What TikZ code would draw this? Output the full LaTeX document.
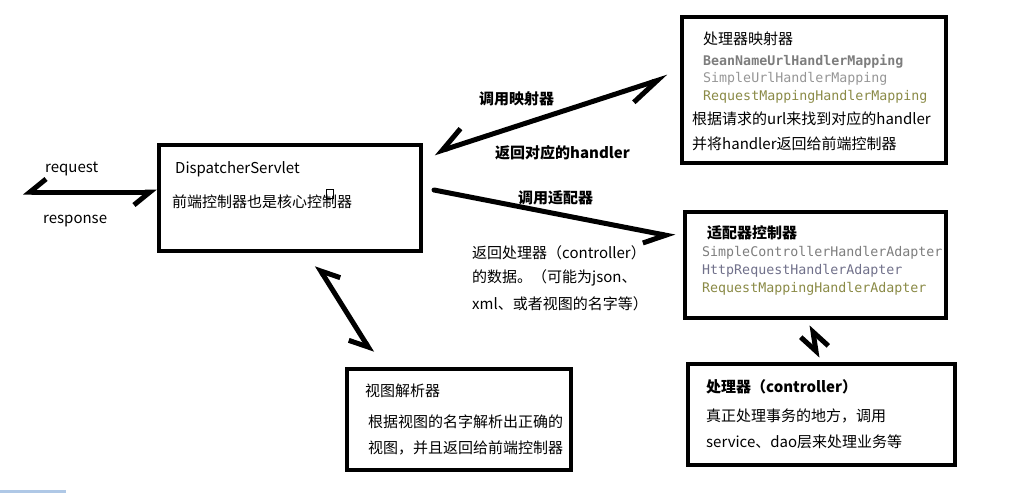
\documentclass[tikz,border=0pt]{standalone}
\usepackage{fontspec}
\setmainfont{Noto Sans CJK SC}
\setmonofont{DejaVu Sans Mono}
\usepackage{tikz}
\usetikzlibrary{arrows.meta}
\definecolor{clsgray}{RGB}{125,125,125}
\definecolor{clslight}{RGB}{150,150,150}
\definecolor{clsolive}{RGB}{138,138,70}
\definecolor{clsslate}{RGB}{112,112,138}
\definecolor{tasklight}{RGB}{175,200,230}
\tikzstyle{panel}=[draw, rectangle, line width=4pt, inner sep=0pt]
\tikzstyle{txt}=[anchor=west, inner sep=0pt, font=\fontsize{15}{18}\selectfont]
\tikzstyle{hdr}=[txt, font=\fontsize{15}{18}\selectfont\bfseries]
\tikzstyle{cls}=[anchor=west, inner sep=0pt, font=\fontsize{13.3}{16}\selectfont\ttfamily]
\tikzstyle{link}=[line width=5pt, line cap=round]
\newcommand{\panel}{\node[panel]}

\begin{document}
\begin{tikzpicture}[x=1pt,y=-1pt,>={Straight Barb[harpoon,swap,length=16pt,width=26pt]}]
	\useasboundingbox (0,0) rectangle (1022,493);
	% boxes
	\panel[minimum width=262pt,minimum height=106pt](ds) at (290,198) {};
	\panel[minimum width=264pt,minimum height=146pt](map) at (814,90) {};
	\panel[minimum width=261pt,minimum height=106pt](ada) at (815.5,265) {};
	\panel[minimum width=267pt,minimum height=101pt](ctl) at (821.5,414.5) {};
	\panel[minimum width=224pt,minimum height=101pt](view) at (459,419.5) {};
	\coordinate (client) at (23,192);
	% texts in the boxes
	\node[txt](dsName) at (175,169) {DispatcherServlet};
	\node[txt](dsNote) at (172,201.5) {前端控制器也是核心控制器};
	\node[txt](mapName) at (703,39) {处理器映射器};
	\node[cls,font=\fontsize{13.3}{16}\selectfont\ttfamily\bfseries,clsgray](mapA) at (703,61) {BeanNameUrlHandlerMapping};
	\node[cls,clslight](mapB) at (703,79) {SimpleUrlHandlerMapping};
	\node[cls,clsolive](mapC) at (703,97) {RequestMappingHandlerMapping};
	\node[txt](mapNoteA) at (692,119) {根据请求的url来找到对应的handler};
	\node[txt](mapNoteB) at (692,144) {并将handler返回给前端控制器};
	\node[hdr](adaName) at (707,232.5) {适配器控制器};
	\node[cls,clsgray](adaA) at (702,253) {SimpleControllerHandlerAdapter};
	\node[cls,clsslate](adaB) at (702,271) {HttpRequestHandlerAdapter};
	\node[cls,clsolive](adaC) at (702,289) {RequestMappingHandlerAdapter};
	\node[hdr](ctlName) at (706,387) {处理器（controller）};
	\node[txt](ctlNoteA) at (706,415.5) {真正处理事务的地方，调用};
	\node[txt](ctlNoteB) at (706,441.5) {service、dao层来处理业务等};
	\node[txt](viewName) at (365,391) {视图解析器};
	\node[txt](viewNoteA) at (368,422) {根据视图的名字解析出正确的};
	\node[txt](viewNoteB) at (368,447.5) {视图，并且返回给前端控制器};
	% texts on the links
	\node[txt](req) at (45,169) {request};
	\node[txt](resp) at (43,221) {response};
	\node[hdr](callMap) at (479,99) {调用映射器};
	\node[hdr](backMap) at (495,152.5) {返回对应的handler};
	\node[hdr](callAda) at (518,197.5) {调用适配器};
	\node[txt](backA) at (472,253) {返回处理器（controller）};
	\node[txt](backB) at (472,278) {的数据。（可能为json、};
	\node[txt](backC) at (472,304) {xml、或者视图的名字等）};
	% links
	\draw[link,<->] (client) -- ([yshift=6pt]ds.west);
	\draw[link,{Straight Barb[harpoon,swap,length=24pt,width=30pt]}-{Straight Barb[harpoon,swap,length=29pt,width=27pt]}]
		([shift={(11pt,45pt)}]ds.east) -- ([shift={(-12pt,13pt)}]map.west);
	\draw[link,-{Straight Barb[harpoon,swap,length=21pt,width=24pt]}] ([shift={(11pt,8pt)}]ds.east) -- ([shift={(-8pt,28pt)}]ada.west);
	\draw[link,<->] ([shift={(27pt,-12pt)}]ds.south) -- ([shift={(-87pt,14pt)}]view.north);
	\draw[link,<->] ([shift={(-3.5pt,-5pt)}]ada.south) -- ([shift={(-4.5pt,4pt)}]ctl.north);
	% marks
	\draw[line width=0.8pt] (326,189) rectangle (333,198);
	\fill[tasklight] (0,490) rectangle (66,493);
\end{tikzpicture}
\end{document}
